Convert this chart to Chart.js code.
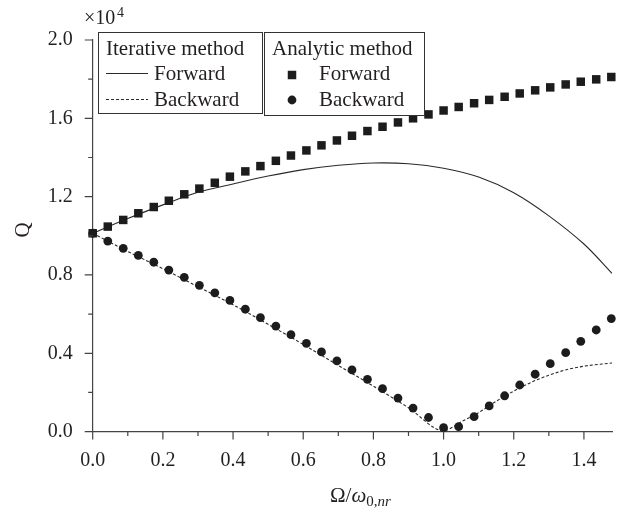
<!DOCTYPE html>
<html>
<head>
<meta charset="utf-8">
<script src="https://cdn.jsdelivr.net/npm/chart.js@4.4.1/dist/chart.umd.min.js"></script>
<style>
  html, body { margin: 0; padding: 0; background: #fff; }
</style>
</head>
<body>
<canvas id="grafico" width="618" height="509"></canvas>
<script>
// Q values are in units of 1e4 (axis shows x10^4)
const analyticX = [0, 0.043, 0.087, 0.130, 0.174, 0.217, 0.261, 0.304, 0.348, 0.391, 0.435, 0.478,
  0.522, 0.565, 0.609, 0.652, 0.696, 0.739, 0.783, 0.826, 0.870, 0.913, 0.957, 1.0, 1.043, 1.087,
  1.130, 1.174, 1.217, 1.261, 1.304, 1.348, 1.391, 1.435, 1.478]
const analyticForward = [1.013, 1.047, 1.081, 1.115, 1.147, 1.179, 1.212, 1.241, 1.271, 1.302, 1.329, 1.356,
  1.383, 1.410, 1.436, 1.462, 1.487, 1.511, 1.535, 1.557, 1.579, 1.600, 1.620, 1.640, 1.658, 1.677,
  1.694, 1.710, 1.727, 1.743, 1.758, 1.773, 1.787, 1.799, 1.811]
const analyticBackward = [1.013, 0.973, 0.936, 0.900, 0.865, 0.825, 0.788, 0.747, 0.709, 0.670, 0.625, 0.582,
  0.539, 0.495, 0.451, 0.407, 0.361, 0.315, 0.267, 0.219, 0.171, 0.120, 0.072, 0.020, 0.025, 0.076,
  0.131, 0.183, 0.238, 0.293, 0.347, 0.403, 0.461, 0.519, 0.577]

const iterForwardX = [0, 0.1, 0.2, 0.3, 0.4, 0.5, 0.6, 0.7, 0.8, 0.9, 1.0, 1.1, 1.2, 1.3, 1.4, 1.48]
const iterForward = [1.013, 1.088, 1.158, 1.222, 1.265, 1.305, 1.338, 1.360, 1.372, 1.368, 1.345, 1.300, 1.220, 1.102, 0.958, 0.808]
const iterBackwardX = [0, 0.1, 0.2, 0.3, 0.4, 0.5, 0.6, 0.7, 0.8, 0.9, 1.0, 1.05, 1.1, 1.15, 1.2, 1.25, 1.3, 1.35, 1.4, 1.48]
const iterBackward = [1.013, 0.920, 0.832, 0.740, 0.648, 0.548, 0.445, 0.338, 0.232, 0.122, 0.005, 0.050, 0.097, 0.155, 0.207, 0.252, 0.288, 0.316, 0.334, 0.350]

const xTicks = [0.0, 0.2, 0.4, 0.6, 0.8, 1.0, 1.2, 1.4]
const xMinor = [0.1, 0.3, 0.5, 0.7, 0.9, 1.1, 1.3]
const yTicks = [0.0, 0.4, 0.8, 1.2, 1.6, 2.0]
const yMinor = [0.2, 0.6, 1.0, 1.4, 1.8]

const tinta = '#231f20'
const serif = '"Liberation Serif", "DejaVu Serif", serif'
const pontos = (xs, ys) => xs.map((x, i) => ({x: x, y: ys[i]}))

// tick marks drawn by hand so minor ticks can be shorter
const marcas = {
  id: 'marcas',
  afterDatasetsDraw(chart) {
    const c = chart.ctx
    const sx = chart.scales.x, sy = chart.scales.y
    const a = chart.chartArea
    c.save()
    c.strokeStyle = '#444'
    c.lineWidth = 1.2
    c.beginPath()
    xTicks.forEach(v => { const p = sx.getPixelForValue(v); c.moveTo(p, a.bottom); c.lineTo(p, a.bottom + 8) })
    xMinor.forEach(v => { const p = sx.getPixelForValue(v); c.moveTo(p, a.bottom); c.lineTo(p, a.bottom + 4.5) })
    yTicks.forEach(v => { const p = sy.getPixelForValue(v); c.moveTo(a.left, p); c.lineTo(a.left - 8, p) })
    yMinor.forEach(v => { const p = sy.getPixelForValue(v); c.moveTo(a.left, p); c.lineTo(a.left - 4.5, p) })
    c.stroke()
    c.restore()
  }
}

// two boxed legends, axis titles and the x10^4 factor
const textos = {
  id: 'textos',
  afterDraw(chart) {
    const c = chart.ctx
    c.save()
    c.fillStyle = tinta
    c.strokeStyle = '#333'
    c.textBaseline = 'alphabetic'
    c.textAlign = 'left'

    c.lineWidth = 1
    c.fillStyle = '#fff'
    c.fillRect(98.5, 32.5, 164, 81)
    c.strokeRect(98.5, 32.5, 164, 81)
    c.fillRect(264.5, 32.5, 160, 83)
    c.strokeRect(264.5, 32.5, 160, 83)

    c.fillStyle = tinta
    c.font = '21px ' + serif
    c.fillText('Iterative method', 106, 55)
    c.fillText('Forward', 154, 80)
    c.fillText('Backward', 154, 106)
    c.fillText('Analytic method', 272, 55)
    c.fillText('Forward', 319, 80)
    c.fillText('Backward', 319, 106)

    c.strokeStyle = '#2a2a2a'
    c.lineWidth = 1
    c.beginPath(); c.moveTo(106, 73.5); c.lineTo(148, 73.5); c.stroke()
    c.setLineDash([3, 2])
    c.beginPath(); c.moveTo(106, 99.5); c.lineTo(148, 99.5); c.stroke()
    c.setLineDash([])

    c.fillStyle = '#1c1c1c'
    c.fillRect(292 - 4.25, 75 - 4.25, 8.5, 8.5)
    c.beginPath(); c.arc(292, 100, 4.4, 0, Math.PI * 2); c.fill()

    // x10^4
    c.fillStyle = tinta
    c.font = '20px ' + serif
    c.fillText('\u00d710', 84, 24)
    c.font = '14px ' + serif
    c.fillText('4', 117, 17)

    // y title
    c.save()
    c.translate(29, 230)
    c.rotate(-Math.PI / 2)
    c.font = '21px ' + serif
    c.textAlign = 'center'
    c.fillText('Q', 0, 0)
    c.restore()

    // x title  Ω/ω_{0,nr}
    let x = 330
    const partes = [
      ['\u03a9/', '21px ' + serif, 502],
      ['\u03c9', 'italic 21px ' + serif, 502],
      ['0,', '15px ' + serif, 506],
      ['nr', 'italic 15px ' + serif, 506]
    ]
    partes.forEach(p => {
      c.font = p[1]
      c.fillText(p[0], x, p[2])
      x += c.measureText(p[0]).width
    })
    c.restore()
  }
}

const grafico = new Chart(document.getElementById('grafico'), {
  type: 'scatter',
  data: {
    datasets: [
      {
        label: 'Iterative Forward',
        data: pontos(iterForwardX, iterForward),
        showLine: true,
        pointRadius: 0,
        borderColor: '#2a2a2a',
        borderWidth: 1.1,
        tension: 0.35,
        order: 2
      },
      {
        label: 'Iterative Backward',
        data: pontos(iterBackwardX, iterBackward),
        showLine: true,
        pointRadius: 0,
        borderColor: '#2a2a2a',
        borderWidth: 1.1,
        borderDash: [3, 2],
        cubicInterpolationMode: 'monotone',
        order: 2
      },
      {
        label: 'Analytic Backward',
        data: pontos(analyticX, analyticBackward),
        pointStyle: 'circle',
        pointRadius: 4.4,
        borderWidth: 0,
        backgroundColor: '#1c1c1c',
        clip: false,
        order: 1
      },
      {
        label: 'Analytic Forward',
        data: pontos(analyticX, analyticForward),
        pointStyle: 'rect',
        pointRadius: 6,
        borderWidth: 0,
        backgroundColor: '#1c1c1c',
        clip: false,
        order: 0
      }
    ]
  },
  options: {
    responsive: false,
    animation: false,
    layout: { padding: { top: 40, right: 0, bottom: 0, left: 0 } },
    plugins: { legend: { display: false }, tooltip: { enabled: false } },
    scales: {
      x: {
        type: 'linear',
        min: 0,
        max: 1.48,
        afterBuildTicks: s => { s.ticks = xTicks.map(v => ({value: v})) },
        afterFit: s => { s.height = 77.4 },
        grid: { display: false, drawTicks: false },
        border: { display: true, color: '#444', width: 1.2 },
        ticks: {
          color: tinta,
          font: { family: serif, size: 20 },
          padding: 17,
          maxRotation: 0,
          callback: v => v.toFixed(1)
        }
      },
      y: {
        type: 'linear',
        min: 0,
        max: 2,
        afterBuildTicks: s => { s.ticks = yTicks.map(v => ({value: v})) },
        afterFit: s => { s.width = 92.7 },
        grid: { display: false, drawTicks: false },
        border: { display: true, color: '#444', width: 1.2 },
        ticks: {
          color: tinta,
          font: { family: serif, size: 20 },
          padding: 20,
          callback: v => v.toFixed(1)
        }
      }
    }
  },
  plugins: [marcas, textos]
})
</script>
</body>
</html>
